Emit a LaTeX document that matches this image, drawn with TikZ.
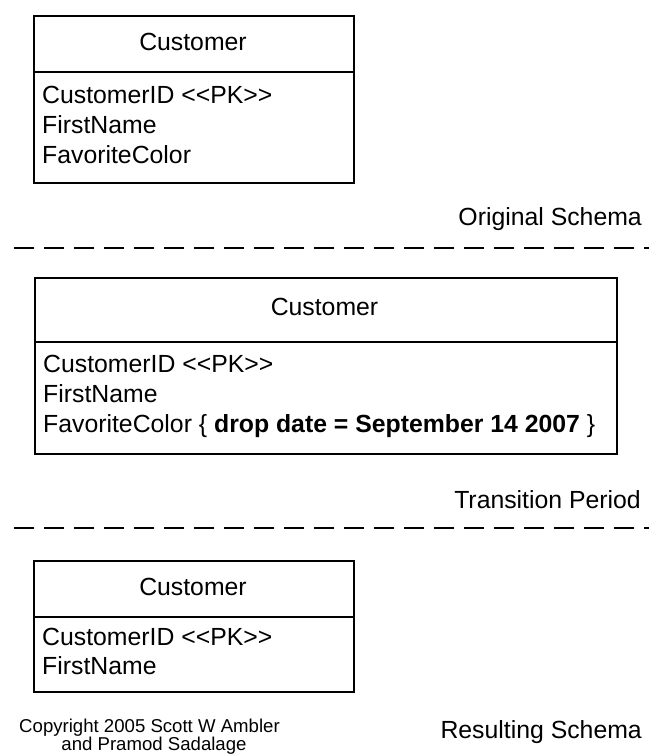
\documentclass[tikz,border=0pt]{standalone}
\usepackage{fontspec}
\setmainfont{Liberation Sans}
\begin{document}
\begin{tikzpicture}[x=1pt,y=-1pt,
  frame/.style={draw=black, line width=2pt, inner sep=0pt, anchor=north west},
  title/.style={inner sep=0pt, anchor=base, font=\fontsize{24.8}{30}\selectfont},
  attr/.style={inner sep=0pt, anchor=base west, font=\fontsize{24.8}{30}\selectfont},
  phase/.style={inner sep=0pt, anchor=base east, font=\fontsize{24.8}{30}\selectfont},
  note/.style={inner sep=0pt, anchor=base, font=\fontsize{18.6}{22}\selectfont},
  separator/.style={line width=2.2pt, dash pattern=on 20pt off 10pt}]
\useasboundingbox (0,0) rectangle (649,755);

% original schema
\node[frame, minimum width=320pt, minimum height=56pt] (c1h) at (33,15) {};
\node[frame, minimum width=320pt, minimum height=111pt] (c1b) at (33,71) {};
\node[title] (c1t) at (193,50) {Customer};
\node[attr] (c1a) at (42,103) {CustomerID <\kern0pt<PK>\kern0pt>};
\node[attr] (c1f) at (42,133) {FirstName};
\node[attr] (c1c) at (42,163) {FavoriteColor};
\node[phase] (orig) at (642,225) {Original Schema};

\coordinate (s1a) at (14,248);
\coordinate (s1b) at (649,248);
\draw[separator] (s1a) -- (s1b);

% transition period
\node[frame, minimum width=582pt, minimum height=64pt] (c2h) at (33.5,277) {};
\node[frame, minimum width=582pt, minimum height=111.5pt] (c2b) at (33.5,341) {};
\node[title] (c2t) at (324.5,315) {Customer};
\node[attr] (c2a) at (43,372) {CustomerID <\kern0pt<PK>\kern0pt>};
\node[attr] (c2f) at (43,402) {FirstName};
\node[attr] (c2c) at (43,432) {FavoriteColor \{ \textbf{drop date = September 14 2007} \}};
\node[phase] (trans) at (641,508) {Transition Period};

\coordinate (s2a) at (14,528);
\coordinate (s2b) at (649,528);
\draw[separator] (s2a) -- (s2b);

% resulting schema
\node[frame, minimum width=320pt, minimum height=56pt] (c3h) at (33,560) {};
\node[frame, minimum width=320pt, minimum height=75pt] (c3b) at (33,616) {};
\node[title] (c3t) at (193,595) {Customer};
\node[attr] (c3a) at (42,645) {CustomerID <\kern0pt<PK>\kern0pt>};
\node[attr] (c3f) at (42,674) {FirstName};
\node[phase] (res) at (642,738) {Resulting Schema};

\node[note] (copy1) at (149.5,732) {Copyright 2005 Scott W Ambler};
\node[note] (copy2) at (154,750) {and Pramod Sadalage};
\end{tikzpicture}
\end{document}
